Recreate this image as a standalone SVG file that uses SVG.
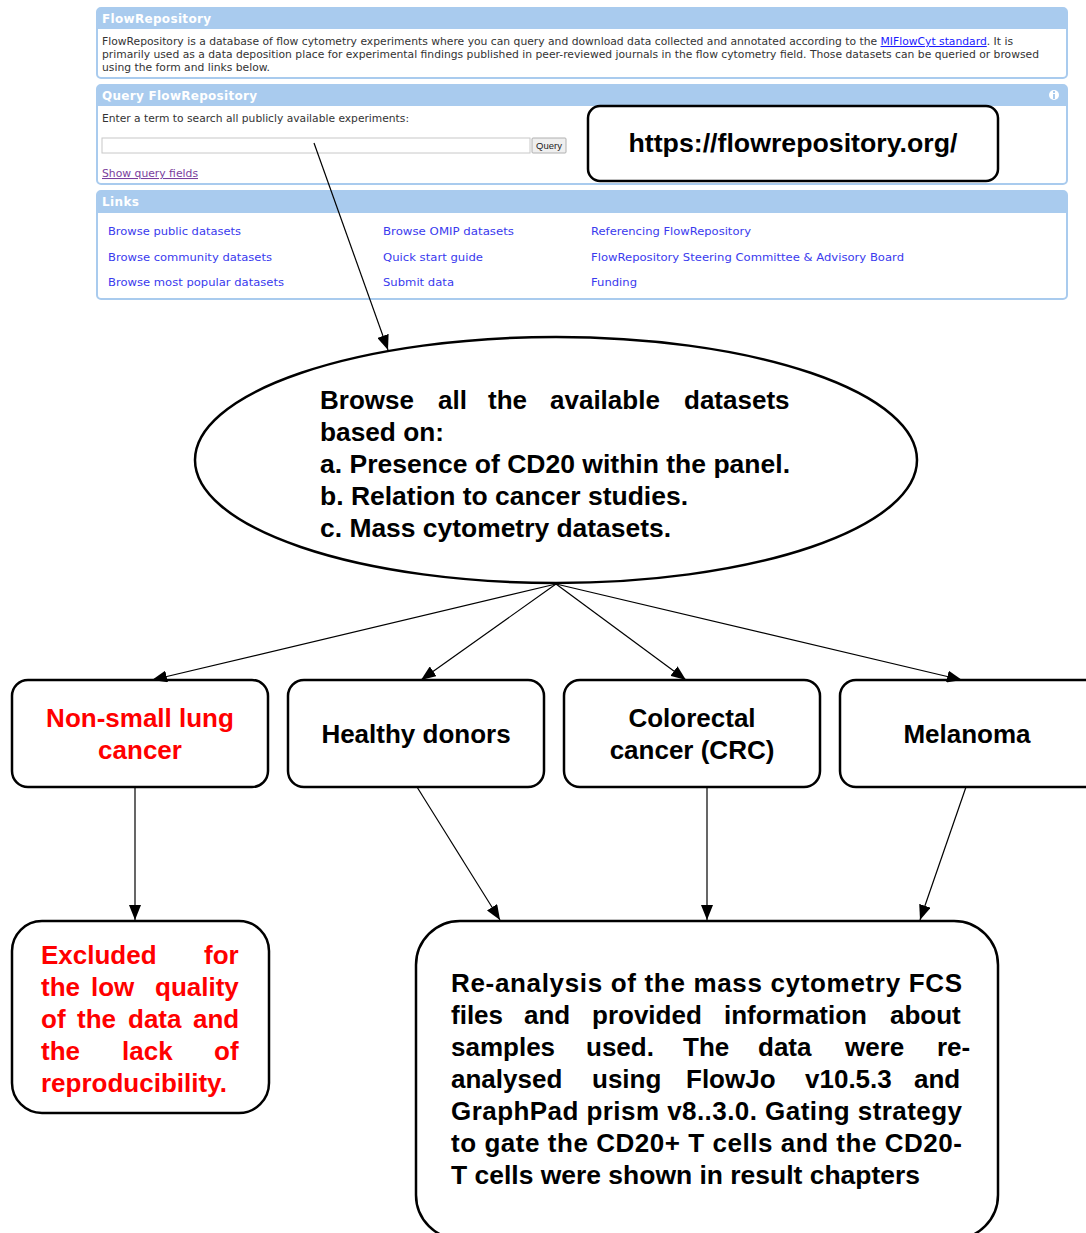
<svg xmlns="http://www.w3.org/2000/svg" width="1086" height="1233" viewBox="0 0 1086 1233">
<style>
.frame{fill:#fff;stroke:#a9cbee;stroke-width:2}
.hdr{fill:#a9cbee}
.htxt{font-family:"DejaVu Sans",Verdana,sans-serif;font-weight:bold;font-size:12px;fill:#fff}
.body{font-family:"DejaVu Sans",Verdana,sans-serif;font-size:10.3px;fill:#333}
.lnk{font-family:"DejaVu Sans",Verdana,sans-serif;font-size:11.2px;fill:#3a3aee}
.node{fill:#fff;stroke:#000;stroke-width:2.5}
.t{font-family:"Liberation Sans",Arial,sans-serif;font-weight:bold;font-size:26px;fill:#000}
.red{fill:#ff0000}
.mid{text-anchor:middle}
.conn{stroke:#000;stroke-width:1.2;fill:none;marker-end:url(#ah)}
</style>
<defs>
<marker id="ah" markerUnits="userSpaceOnUse" markerWidth="15" markerHeight="12" refX="15" refY="6" orient="auto">
<path d="M0,0 L15,6 L0,12 z" fill="#000"/>
</marker>
</defs>
<rect width="1086" height="1233" fill="#fff"/>

<g id="web-screenshot">
<g id="panel-about">
<rect class="frame" x="97" y="8" width="970" height="70" rx="4"/>
<path class="hdr" d="M97,12 a4,4 0 0 1 4,-4 h962 a4,4 0 0 1 4,4 v17 h-970 z"/>
<text class="htxt" x="102" y="22.5" textLength="109">FlowRepository</text>
<text class="body" x="102" y="45" textLength="911" lengthAdjust="spacingAndGlyphs">FlowRepository is a database of flow cytometry experiments where you can query and download data collected and annotated according to the <tspan fill="#1a1aff" text-decoration="underline">MIFlowCyt standard</tspan>. It is</text>
<text class="body" x="102" y="58" textLength="937" lengthAdjust="spacingAndGlyphs">primarily used as a data deposition place for experimental findings published in peer-reviewed journals in the flow cytometry field. Those datasets can be queried or browsed</text>
<text class="body" x="102" y="71" textLength="168" lengthAdjust="spacingAndGlyphs">using the form and links below.</text>
</g>
<g id="panel-query">
<rect class="frame" x="97" y="85" width="970" height="99" rx="4"/>
<path class="hdr" d="M97,89 a4,4 0 0 1 4,-4 h962 a4,4 0 0 1 4,4 v17 h-970 z"/>
<text class="htxt" x="102" y="99.5" textLength="155">Query FlowRepository</text>
<circle cx="1054" cy="95" r="5" fill="#fff"/>
<rect x="1053" y="94" width="2" height="5" fill="#a9cbee"/>
<rect x="1053" y="91" width="2" height="2" fill="#a9cbee"/>
<text class="body" x="102" y="122" textLength="307" lengthAdjust="spacingAndGlyphs">Enter a term to search all publicly available experiments:</text>
<rect x="102" y="138" width="428" height="15" fill="#fff" stroke="#c8c8c8" stroke-width="1"/>
<rect x="532" y="138" width="34" height="15" fill="#efefef" stroke="#b0b0b0" stroke-width="1" rx="1"/>
<text x="549" y="149" text-anchor="middle" font-family="'Liberation Sans',Arial,sans-serif" font-size="9.5" fill="#222">Query</text>
<text x="102" y="177" font-family="'DejaVu Sans',Verdana,sans-serif" font-size="10.3px" fill="#7a3e9d" text-decoration="underline" textLength="96" lengthAdjust="spacingAndGlyphs">Show query fields</text>
</g>
<g id="panel-links">
<rect class="frame" x="97" y="191" width="970" height="108" rx="4"/>
<path class="hdr" d="M97,195 a4,4 0 0 1 4,-4 h962 a4,4 0 0 1 4,4 v18 h-970 z"/>
<text class="htxt" x="102" y="205.5" textLength="37">Links</text>
<text class="lnk" x="108" y="235" textLength="133" lengthAdjust="spacingAndGlyphs">Browse public datasets</text>
<text class="lnk" x="108" y="261" textLength="164" lengthAdjust="spacingAndGlyphs">Browse community datasets</text>
<text class="lnk" x="108" y="286" textLength="176" lengthAdjust="spacingAndGlyphs">Browse most popular datasets</text>
<text class="lnk" x="383" y="235" textLength="131" lengthAdjust="spacingAndGlyphs">Browse OMIP datasets</text>
<text class="lnk" x="383" y="261" textLength="100" lengthAdjust="spacingAndGlyphs">Quick start guide</text>
<text class="lnk" x="383" y="286" textLength="71" lengthAdjust="spacingAndGlyphs">Submit data</text>
<text class="lnk" x="591" y="235" textLength="160" lengthAdjust="spacingAndGlyphs">Referencing FlowRepository</text>
<text class="lnk" x="591" y="261" textLength="313" lengthAdjust="spacingAndGlyphs">FlowRepository Steering Committee &amp; Advisory Board</text>
<text class="lnk" x="591" y="286" textLength="46" lengthAdjust="spacingAndGlyphs">Funding</text>
</g>
</g>

<g id="url">
<rect class="node" x="588" y="106" width="410" height="75" rx="12"/>
<text class="t mid" x="793" y="152" font-size="25" textLength="329" lengthAdjust="spacingAndGlyphs">https://flowrepository.org/</text>
</g>

<g id="browse">
<ellipse class="node" cx="556" cy="460" rx="361" ry="123"/>
<text class="t" y="409"><tspan x="320">Browse</tspan><tspan x="438">all</tspan><tspan x="488">the</tspan><tspan x="550">available</tspan><tspan x="684">datasets</tspan></text>
<text class="t" x="320" y="441" textLength="124" lengthAdjust="spacingAndGlyphs">based on:</text>
<text class="t" x="320" y="473" textLength="470" lengthAdjust="spacingAndGlyphs">a. Presence of CD20 within the panel.</text>
<text class="t" x="320" y="505" textLength="368" lengthAdjust="spacingAndGlyphs">b. Relation to cancer studies.</text>
<text class="t" x="320" y="537" textLength="351" lengthAdjust="spacingAndGlyphs">c. Mass cytometry datasets.</text>
</g>

<g id="nsclc">
<rect class="node" x="12" y="680" width="256" height="107" rx="16"/>
<text class="t red mid" x="140" y="727">Non-small lung</text>
<text class="t red mid" x="140" y="759">cancer</text>
</g>
<g id="healthy">
<rect class="node" x="288" y="680" width="256" height="107" rx="16"/>
<text class="t mid" x="416" y="743">Healthy donors</text>
</g>
<g id="crc">
<rect class="node" x="564" y="680" width="256" height="107" rx="16"/>
<text class="t mid" x="692" y="727">Colorectal</text>
<text class="t mid" x="692" y="759">cancer (CRC)</text>
</g>
<g id="melanoma">
<rect class="node" x="840" y="680" width="260" height="107" rx="16"/>
<text class="t mid" x="967" y="743">Melanoma</text>
</g>

<g id="excluded">
<rect class="node" x="12" y="921" width="257" height="192" rx="30"/>
<text class="t red" y="964"><tspan x="41">Excluded</tspan><tspan x="204">for</tspan></text>
<text class="t red" y="996"><tspan x="41">the</tspan><tspan x="91">low</tspan><tspan x="155">quality</tspan></text>
<text class="t red" y="1028"><tspan x="41">of</tspan><tspan x="77">the</tspan><tspan x="128">data</tspan><tspan x="193">and</tspan></text>
<text class="t red" y="1060"><tspan x="41">the</tspan><tspan x="122">lack</tspan><tspan x="214">of</tspan></text>
<text class="t red" x="41" y="1092">reproducibility.</text>
</g>

<g id="reanalysis">
<rect class="node" x="416" y="921" width="582" height="318" rx="44"/>
<text class="t" x="451" y="992" textLength="511">Re-analysis of the mass cytometry FCS</text>
<text class="t" y="1024"><tspan x="451">files</tspan><tspan x="524">and</tspan><tspan x="592">provided</tspan><tspan x="724">information</tspan><tspan x="890">about</tspan></text>
<text class="t" y="1056"><tspan x="451">samples</tspan><tspan x="586">used.</tspan><tspan x="683">The</tspan><tspan x="758">data</tspan><tspan x="845">were</tspan><tspan x="937">re-</tspan></text>
<text class="t" y="1088"><tspan x="451">analysed</tspan><tspan x="592">using</tspan><tspan x="686">FlowJo</tspan><tspan x="805">v10.5.3</tspan><tspan x="914">and</tspan></text>
<text class="t" x="451" y="1120" textLength="511">GraphPad prism v8..3.0. Gating strategy</text>
<text class="t" x="451" y="1152" textLength="511">to gate the CD20+ T cells and the CD20-</text>
<text class="t" x="451" y="1184" textLength="469" lengthAdjust="spacingAndGlyphs">T cells were shown in result chapters</text>
</g>

<g id="connectors">
<line class="conn" x1="314" y1="143" x2="388" y2="350"/>
<line class="conn" x1="556" y1="584" x2="152" y2="680"/>
<line class="conn" x1="556" y1="584" x2="421" y2="680"/>
<line class="conn" x1="556" y1="584" x2="686" y2="680"/>
<line class="conn" x1="556" y1="584" x2="962" y2="680"/>
<line class="conn" x1="135" y1="787" x2="135" y2="920"/>
<line class="conn" x1="417" y1="787" x2="500" y2="920"/>
<line class="conn" x1="707" y1="787" x2="707" y2="920"/>
<line class="conn" x1="966" y1="787" x2="920" y2="920"/>
</g>
</svg>
